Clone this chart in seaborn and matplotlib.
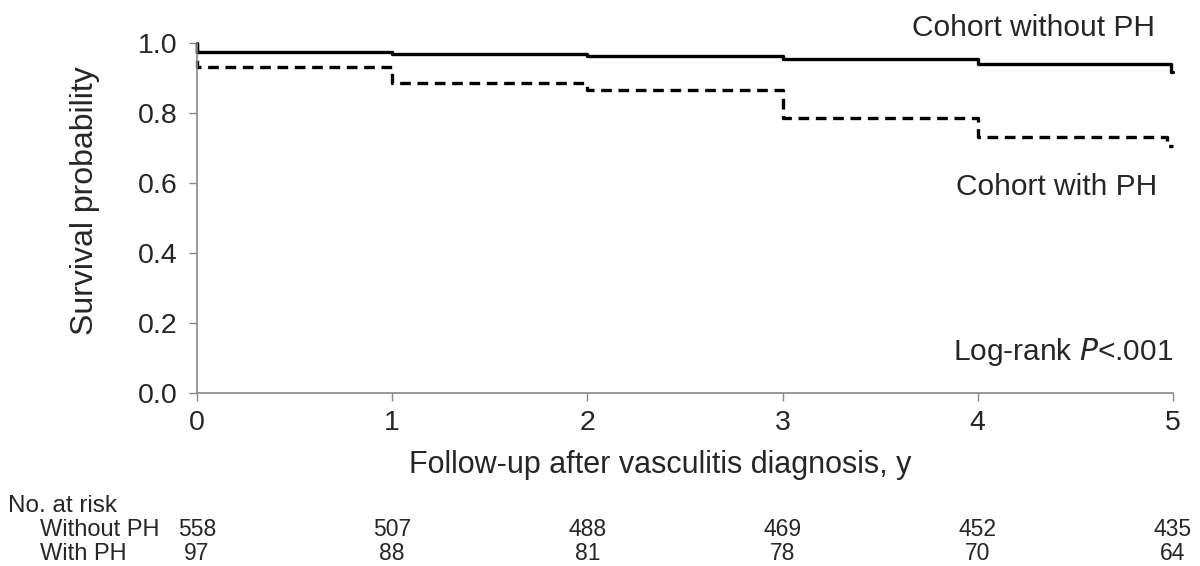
import numpy as np
import pandas as pd
import matplotlib
matplotlib.use("Agg")
import matplotlib.pyplot as plt
import seaborn as sns

# Step-curve data (time in years, survival probability)
time_without = [0, 0, 1, 2, 3, 4, 4.99, 5]
surv_without = [1.0, 0.974, 0.970, 0.963, 0.954, 0.940, 0.916, 0.916]
time_with = [0, 0, 1, 2, 3, 4, 4.97, 5]
surv_with = [1.0, 0.932, 0.885, 0.866, 0.787, 0.731, 0.705, 0.705]

x_ticks = [0, 1, 2, 3, 4, 5]
y_ticks = [0.0, 0.2, 0.4, 0.6, 0.8, 1.0]
risk_without = [558, 507, 488, 469, 452, 435]
risk_with = [97, 88, 81, 78, 70, 64]

df = pd.DataFrame({
    "time": time_without + time_with,
    "surv": surv_without + surv_with,
    "group": ["Without PH"] * len(time_without) + ["With PH"] * len(time_with),
})

sns.set_theme(style="white")
plt.rcParams["font.family"] = ["Liberation Sans", "DejaVu Sans"]

fig = plt.figure(figsize=(12, 5.66), dpi=100)
ax = fig.add_axes([197 / 1200, 1 - 393 / 566, (1173 - 197) / 1200, (393 - 43) / 566])

sns.lineplot(data=df, x="time", y="surv", hue="group", style="group",
             hue_order=["Without PH", "With PH"], style_order=["Without PH", "With PH"],
             palette={"Without PH": "black", "With PH": "black"},
             dashes={"Without PH": "", "With PH": (3.2, 2.0)},
             estimator=None, sort=False, drawstyle="steps-post",
             linewidth=2.4, legend=False, ax=ax)
for ln in ax.lines:
    ln.set_clip_on(False)

ax.set_xlim(0, 5)
ax.set_ylim(0, 1.0)
ax.set_xticks(x_ticks)
ax.set_yticks(y_ticks)
ax.set_xticklabels([str(t) for t in x_ticks], fontsize=20.5)
ax.set_yticklabels([f"{t:.1f}" for t in y_ticks], fontsize=20.5)
ax.tick_params(axis="both", direction="out", length=6, width=1, color="#888888",
               bottom=True, left=True, pad=6)
ax.tick_params(axis="y", pad=8)
for s in ["top", "right"]:
    ax.spines[s].set_visible(False)
for s in ["left", "bottom"]:
    ax.spines[s].set_color("#888888")
    ax.spines[s].set_linewidth(1.2)

ax.set_xlabel("")
ax.set_ylabel("")
fig.text(85 / 1200, 1 - 201 / 566, "Survival probability", rotation=90,
         ha="center", va="center", fontsize=23)
fig.text(660 / 1200, 1 - 465 / 566, "Follow-up after vasculitis diagnosis, y",
         ha="center", va="center", fontsize=22)

ax.text(4.91, 1.043, "Cohort without PH", ha="right", va="center", fontsize=21.5, clip_on=False)
ax.text(4.92, 0.589, "Cohort with PH", ha="right", va="center", fontsize=21.5)
ax.text(5.0, 0.117, r"Log-rank $\mathit{P}$<.001", ha="right", va="center", fontsize=21.5)

# Number at risk table
fig.text(8 / 1200, 1 - 506 / 566, "No. at risk", ha="left", va="center", fontsize=17.5)
fig.text(40 / 1200, 1 - 530 / 566, "Without PH", ha="left", va="center", fontsize=17)
fig.text(40 / 1200, 1 - 554 / 566, "With PH", ha="left", va="center", fontsize=17)
trans = matplotlib.transforms.blended_transform_factory(ax.transData, fig.transFigure)
for t, a, b in zip(x_ticks, risk_without, risk_with):
    ax.text(t, 1 - 530 / 566, str(a), transform=trans, ha="center", va="center", fontsize=16.5)
    ax.text(t, 1 - 554 / 566, str(b), transform=trans, ha="center", va="center", fontsize=16.5)

fig.savefig("out.png", dpi=100)
